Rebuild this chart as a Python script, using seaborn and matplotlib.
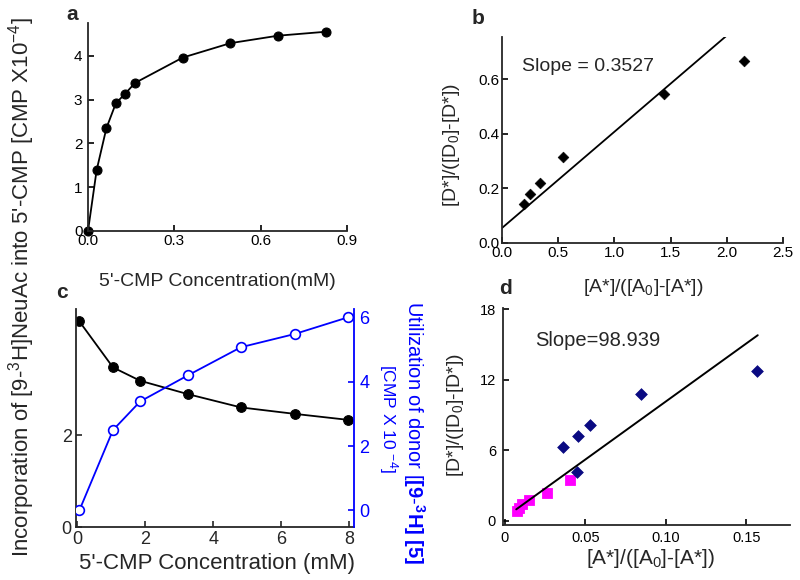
import matplotlib
matplotlib.use("Agg")
import matplotlib.pyplot as plt
import seaborn as sns
import numpy as np
import pandas as pd

# ---------------- data ----------------
a_conc = [0.0, 0.03, 0.064, 0.097, 0.13, 0.163, 0.329, 0.495, 0.66, 0.826]
a_incorp = [0.0, 1.39, 2.35, 2.92, 3.14, 3.38, 3.96, 4.29, 4.46, 4.55]

b_x = [0.198, 0.25, 0.34, 0.54, 1.44, 2.15]
b_y = [0.143, 0.18, 0.22, 0.317, 0.545, 0.667]
b_slope = 0.3527
b_intercept = 0.055
b_fit_x = [0.0, 2.0]

c_conc = [0.06, 1.05, 1.85, 3.25, 4.82, 6.4, 7.97]
c_incorp = [4.47, 3.47, 3.18, 2.89, 2.60, 2.46, 2.33]
c_util = [0.0, 2.5, 3.39, 4.2, 5.08, 5.49, 6.01]

d_blue_x = [0.0364, 0.0457, 0.0527, 0.0845, 0.1566, 0.045]
d_blue_y = [6.31, 7.24, 8.10, 10.8, 12.7, 4.12]
d_mag_x = [0.0075, 0.0090, 0.0105, 0.0150, 0.0265, 0.0405]
d_mag_y = [0.85, 1.05, 1.40, 1.75, 2.35, 3.50]
d_slope = 98.939
d_intercept = 0.25
d_fit_x = [0.0072, 0.157]

# ---------------- style ----------------
sns.set_style("ticks")
plt.rcParams['font.family'] = ['Liberation Sans', 'DejaVu Sans']
plt.rcParams['mathtext.fontset'] = 'custom'
plt.rcParams['mathtext.rm'] = 'Liberation Sans'
plt.rcParams['mathtext.it'] = 'Liberation Sans:italic'
plt.rcParams['mathtext.bf'] = 'Liberation Sans:bold'
plt.rcParams['axes.linewidth'] = 1.3

W, H = 800, 580
fig = plt.figure(figsize=(W / 100, H / 100), dpi=100)


def add_ax(left, right, top, bottom):
    return fig.add_axes([left / W, 1 - bottom / H, (right - left) / W, (bottom - top) / H])


def ftext(x, y, s, **kw):
    kw.setdefault('ha', 'center')
    kw.setdefault('va', 'center')
    return fig.text(x / W, 1 - y / H, s, **kw)


def style(ax, fs):
    sns.despine(ax=ax)
    ax.tick_params(direction='in', length=4, width=1.2, labelsize=fs, colors='black', pad=2)


# ---------------- panel a ----------------
axa = add_ax(88, 347, 23, 231)
sns.lineplot(x=a_conc, y=a_incorp, ax=axa, color='black', marker='o', markersize=6.5,
             markeredgecolor='black', linewidth=1.3, clip_on=False)
axa.set_xlim(0, 0.9)
axa.set_ylim(0, 4.75)
axa.set_xticks([0.0, 0.3, 0.6, 0.9])
axa.set_xticklabels(['0.0', '0.3', '0.6', '0.9'])
axa.set_yticks([0, 1, 2, 3, 4])
style(axa, 11)
axa.tick_params(axis='y', pad=4)
ftext(217, 282, "5'-CMP Concentration(mM)", fontsize=14)
ftext(72, 15, 'a', fontsize=15, fontweight='bold')

# ---------------- panel b ----------------
axb = add_ax(502, 783, 37, 243)
sns.scatterplot(x=b_x, y=b_y, ax=axb, color='black', marker='D', s=30, edgecolor='black')
fit_b = pd.DataFrame({'x': b_fit_x, 'y': [b_intercept + b_slope * v for v in b_fit_x]})
sns.lineplot(data=fit_b, x='x', y='y', ax=axb, color='black', linewidth=1.3)
axb.set_xlim(0, 2.5)
axb.set_ylim(0, 0.755)
axb.set_xticks([0.0, 0.5, 1.0, 1.5, 2.0, 2.5])
axb.set_xticklabels(['0.0', '0.5', '1.0', '1.5', '2.0', '2.5'])
axb.set_yticks([0.0, 0.2, 0.4, 0.6])
axb.set_yticklabels(['0.0', '0.2', '0.4', '0.6'])
style(axb, 11)
axb.set_xlabel('')
axb.set_ylabel('')
ftext(643, 288, r"[A*]/([A$_0$]-[A*])", fontsize=14)
ftext(452, 145, r"[D*]/([D$_0$]-[D*])", fontsize=14, rotation=90)
axb.text(0.18, 0.646, 'Slope = 0.3527', fontsize=14, ha='left', va='center')
ftext(478, 18, 'b', fontsize=15, fontweight='bold')

# ---------------- panel c ----------------
axc = add_ax(76, 354, 309, 527)
sns.lineplot(x=c_conc, y=c_incorp, ax=axc, color='black', marker='o', markersize=7,
             markeredgecolor='black', linewidth=1.3)
axc.set_xlim(-0.04, 8.15)
axc.set_ylim(0, 4.74)
axc.set_xticks([0, 2, 4, 6, 8])
axc.set_yticks([0, 2])
sns.despine(ax=axc)
axc.tick_params(direction='in', length=4, width=1.2, labelsize=13, pad=3)
axc.set_ylabel('')
ftext(217, 563, "5'-CMP Concentration (mM)", fontsize=16)

axc2 = axc.twinx()
sns.lineplot(x=c_conc, y=c_util, ax=axc2, color='#0000ff', marker='o', markersize=7,
             markerfacecolor='white', markeredgecolor='#0000ff', markeredgewidth=1.2,
             linewidth=1.3)
axc2.set_ylim(-0.52, 6.27)
axc2.set_yticks([0, 2, 4, 6])
for s in ['top', 'left', 'bottom']:
    axc2.spines[s].set_visible(False)
axc2.spines['right'].set_color('#0000ff')
axc2.spines['right'].set_linewidth(1.3)
axc2.tick_params(axis='y', direction='in', length=4, width=1.2, labelsize=13,
                 colors='#0000ff', labelcolor='#0000ff', pad=4)
axc2.set_ylabel('')
ftext(388, 418, r"[CMP X 10 $^{-4}$]", fontsize=12.5, color='#0000ff', rotation=270)
ftext(414, 433, r"Utilization of donor [$\mathbf{[9}$-$\mathbf{{}^{3}H]\ [5]}$",
      fontsize=14.5, color='#0000ff', rotation=270)
ftext(62, 293, 'c', fontsize=15, fontweight='bold')

# ---------------- panel d ----------------
axd = add_ax(503, 790, 308, 525)
sns.scatterplot(x=d_mag_x, y=d_mag_y, ax=axd, color='#ff00ff', marker='s', s=55,
                edgecolor='#ff00ff', zorder=2)
sns.scatterplot(x=d_blue_x, y=d_blue_y, ax=axd, color='#0a0a82', marker='D', s=36,
                edgecolor='#0a0a82', zorder=3)
fit_d = pd.DataFrame({'x': d_fit_x, 'y': [d_intercept + d_slope * v for v in d_fit_x]})
sns.lineplot(data=fit_d, x='x', y='y', ax=axd, color='black', linewidth=1.4, zorder=4)
axd.set_xlim(-0.001, 0.177)
axd.set_ylim(-0.37, 18.1)
axd.set_xticks([0, 0.05, 0.10, 0.15])
axd.set_xticklabels(['0', '0.05', '0.10', '0.15'])
axd.set_yticks([0, 6, 12, 18])
style(axd, 10.5)
axd.tick_params(axis='y', pad=5)
axd.tick_params(axis='x', pad=4)
axd.set_xlabel('')
axd.set_ylabel('')
ftext(651, 558, r"[A*]/([A$_0$]-[A*])", fontsize=15)
ftext(455, 415, r"[D*]/([D$_0$]-[D*])", fontsize=14, rotation=90)
axd.text(0.019, 15.3, 'Slope=98.939', fontsize=14.5, ha='left', va='center')
ftext(505, 288, 'd', fontsize=15, fontweight='bold')

# ---------------- shared left label ----------------
ftext(22, 287, r"Incorporation of [9-$^{3}$H]NeuAc into 5'-CMP [CMP X10$^{-4}$]",
      fontsize=16, rotation=90)

fig.savefig('out.png', dpi=100)
